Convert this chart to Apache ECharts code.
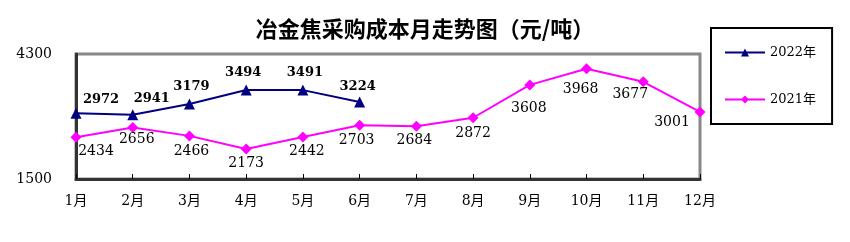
<!DOCTYPE html>
<html><head><meta charset="utf-8">
<script src="https://cdn.jsdelivr.net/npm/echarts@6/dist/echarts.min.js"></script>
<style>html,body{margin:0;padding:0;background:#fff}#c{width:850px;height:242px}</style>
</head><body><div id="c"></div>
<script>
const months = ['1月','2月','3月','4月','5月','6月','7月','8月','9月','10月','11月','12月'];
const values2022 = [2972, 2941, 3179, 3494, 3491, 3224];
const values2021 = [2434, 2656, 2466, 2173, 2442, 2703, 2684, 2872, 3608, 3968, 3677, 3001];
const yTicks = [1500, 4300];
const titleText = '冶金焦采购成本月走势图（元/吨）';

// label offsets (styling only)
const off2022 = [[25,-14],[19,-16],[2,-17],[-3,-17],[2,-17],[-2,-15]];
const off2021 = [[20,14],[4,12],[2,15],[0,14],[4,14],[-3,15],[-2,14],[0,16],[-1,23],[-6,21],[-13,13],[-28,10]];

const numFont = '"DejaVu Serif", "Noto Sans CJK SC", serif';
const chart = echarts.init(document.getElementById('c'), null, {renderer:'canvas'});
chart.setOption({
  animation: false,
  backgroundColor: '#fff',
  title: {
    text: titleText, left: 'center', top: 18, padding: 0,
    textStyle: {fontFamily: '"Noto Sans CJK SC"', fontWeight: 'bold', fontSize: 22, color: '#000'}
  },
  legend: {
    orient: 'vertical', left: 711, top: 28,
    padding: [18, 16, 18, 13], itemGap: 34,
    borderColor: '#000', borderWidth: 2,
    itemWidth: 40, itemHeight: 10,
    textStyle: {fontFamily: numFont, fontSize: 13, color: '#000'},
    data: ['2022年', '2021年']
  },
  grid: {
    left: 76, right: 150, top: 54, bottom: 63,
    show: true, borderColor: '#888', borderWidth: 3, backgroundColor: 'transparent'
  },
  xAxis: {
    type: 'category', data: months, boundaryGap: false,
    axisLine: {lineStyle: {color: '#333', width: 3}},
    axisTick: {inside: true, length: 5, alignWithLabel: true, lineStyle: {color: '#000', width: 1}},
    axisLabel: {fontFamily: numFont, fontSize: 14, color: '#000', margin: 15},
    splitLine: {show: false}
  },
  yAxis: {
    type: 'value', min: 1500, max: 4300,
    axisLine: {show: true, lineStyle: {color: '#333', width: 3}},
    axisTick: {show: false},
    axisLabel: {customValues: yTicks, formatter: v => String(v), fontFamily: numFont, fontSize: 14, color: '#000', margin: 24},
    splitLine: {show: false}
  },
  series: [
    {
      name: '2022年', type: 'line',
      data: values2022.map((v, i) => ({value: v, label: {offset: off2022[i]}})),
      symbol: 'triangle', symbolSize: 11,
      itemStyle: {color: '#000080'},
      lineStyle: {color: '#000080', width: 2},
      label: {show: true, position: 'inside', fontFamily: numFont, fontWeight: 'bold', fontSize: 13, color: '#000'},
      z: 3
    },
    {
      name: '2021年', type: 'line',
      data: values2021.map((v, i) => ({value: v, label: {offset: off2021[i]}})),
      symbol: 'diamond', symbolSize: 11,
      itemStyle: {color: '#ff00ff'},
      lineStyle: {color: '#ff00ff', width: 2},
      label: {show: true, position: 'inside', fontFamily: numFont, fontSize: 14, color: '#000'},
      z: 2
    }
  ]
});
</script></body></html>
